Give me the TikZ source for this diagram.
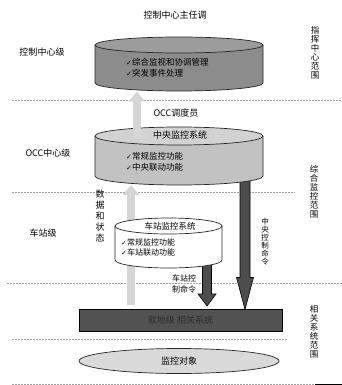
\documentclass[tikz,border=0pt]{standalone}
\usepackage{fontspec}
\setmainfont{Noto Sans CJK SC}
\newfontfamily\ckfont{DejaVu Sans}
\usetikzlibrary{calc,arrows.meta,shapes.geometric}
\newcommand{\okmark}{{\ckfont\fontsize{7}{7}\selectfont ✓}}
\definecolor{ccbody}{HTML}{8C8C8C}
\definecolor{cctop}{HTML}{9C9C9C}
\definecolor{occbody}{HTML}{C2C2C2}
\definecolor{occtop}{HTML}{D2D2D2}
\definecolor{lightarr}{HTML}{D6D6D6}
\definecolor{darkarr}{HTML}{4D4D4D}
\definecolor{rectfill}{HTML}{525252}
\definecolor{recttext}{HTML}{2E2E2E}
\definecolor{objfill}{HTML}{D9D9D9}
\begin{document}
\begin{tikzpicture}[x=1pt,y=-1pt,
  font=\fontsize{9}{11}\selectfont,
  dashline/.style={draw=gray!75, line width=0.6pt, dash pattern=on 2pt off 1pt},
  outline/.style={draw=black!85, line width=0.7pt},
  lightarrow/.style={draw=lightarr, line width=8pt, -{Triangle[width=16pt,length=10pt]}},
  darkarrow/.style={fill=darkarr, draw=black, line width=0.6pt},
  feat/.style={anchor=west, align=left, inner sep=0pt, font=\fontsize{8.5}{10.5}\selectfont},
  vtext/.style={align=center, inner sep=0pt},
  label/.style={inner sep=0pt}]
\useasboundingbox (0,0) rectangle (342,385);
\fill[white] (0,0) rectangle (342,385);

% dashed separators
\draw[dashline] (12,100) -- (342,100);
\draw[dashline] (12,192) -- (295,192);
\draw[dashline] (7,283) -- (342,283);
\draw[dashline] (12,339) -- (287,339);
\draw[dashline] (12,384) -- (315,384);
\draw[black, line width=2pt] (315,384.5) -- (342,384.5);

% named coordinates for connectors
\coordinate (dataBot) at (131,305);
\coordinate (occBot) at (131,185);
\coordinate (occIn) at (137,139);
\coordinate (ccBot) at (137,91.5);
\coordinate (zA) at (245,180);
\coordinate (zB) at (245,309.5);
\coordinate (sA) at (207,262);
\coordinate (sB) at (207,306);

% lower light arrow (behind station cylinder)
\draw[lightarrow] (dataBot) -- (occBot);

% dark arrows
\filldraw[darkarrow] ($(zA)+(-5,0)$) -- ($(zB)+(-5,-32)$) -- ($(zB)+(-8.5,-32)$) -- (zB)
  -- ($(zB)+(8.5,-32)$) -- ($(zB)+(5,-32)$) -- ($(zA)+(5,0)$) -- cycle;
\filldraw[darkarrow] ($(sA)+(-4.5,0)$) -- ($(sB)+(-4.5,-12)$) -- ($(sB)+(-9,-12)$) -- (sB)
  -- ($(sB)+(9,-12)$) -- ($(sB)+(4.5,-12)$) -- ($(sA)+(4.5,0)$) -- cycle;

% control-center cylinder
\fill[ccbody] (95,45) -- (95,83) arc[start angle=180, end angle=0, x radius=84, y radius=8] -- (263,45) -- cycle;
\draw[outline] (95,45) -- (95,83) arc[start angle=180, end angle=0, x radius=84, y radius=8] -- (263,45);
\filldraw[outline, fill=cctop] (179,45) ellipse[x radius=84, y radius=8];

% OCC cylinder
\fill[occbody] (95,136) -- (95,176) arc[start angle=180, end angle=0, x radius=84, y radius=9] -- (263,136) -- cycle;
\draw[outline] (95,136) -- (95,176) arc[start angle=180, end angle=0, x radius=84, y radius=9] -- (263,136);
\filldraw[outline, fill=occtop] (179,136) ellipse[x radius=84, y radius=9];

% station cylinder
\fill[white] (115,226) -- (115,260) arc[start angle=180, end angle=0, x radius=53.5, y radius=8] -- (222,226) -- cycle;
\draw[outline] (115,226) -- (115,260) arc[start angle=180, end angle=0, x radius=53.5, y radius=8] -- (222,226);
\filldraw[outline, fill=white] (168.5,226) ellipse[x radius=53.5, y radius=8];

% upper light arrow (over OCC top)
\draw[lightarrow] (occIn) -- (ccBot);

% local systems bar and monitored objects
\node[draw=black, line width=0.7pt, fill=rectfill, text=recttext, minimum width=203pt, minimum height=22pt, inner sep=0pt] (loc) at (180.5,320.5) {就地级 相关系统};
\node[ellipse, draw=black!85, line width=0.7pt, fill=objfill, minimum width=200pt, minimum height=25pt, inner sep=0pt] (obj) at (179,361) {监控对象};

% texts
\node[label] (ctitle) at (175,15) {控制中心主任调};
\node[label] (lcc) at (42,52) {控制中心级};
\node[feat] (ccf) at (126,68) {\okmark 综合监视和协调管理\\\okmark 突发事件处理};
\node[label] (occd) at (176,113) {OCC调度员};
\node[label] (locc) at (48,153) {OCC中心级};
\node[label] (occn) at (180,135) {中央监控系统};
\node[feat, font=\fontsize{8.5}{11.5}\selectfont] (occf) at (126,162) {\okmark 常规监控功能\\\okmark 中央联动功能};
\node[label] (lst) at (43,233) {车站级};
\node[label, font=\fontsize{8.5}{10}\selectfont] (stn) at (170,226) {车站监控系统};
\node[feat, font=\fontsize{8}{9.5}\selectfont] (stf) at (121,247.5) {\okmark 常规监控功能\\\okmark 车站联动功能};
\node[vtext, font=\fontsize{9}{11}\selectfont] (sd) at (100,216) {数\\据\\和\\状\\态};
\node[vtext, font=\fontsize{7.5}{8}\selectfont] (zy) at (265,242) {中\\央\\控\\制\\命\\令};
\node[vtext, font=\fontsize{8}{11}\selectfont] (czm) at (184,283.5) {车站控\\制命令};
\node[vtext, font=\fontsize{8.5}{9}\selectfont] (r1) at (315,53) {指\\挥\\中\\心\\范\\围};
\node[vtext, font=\fontsize{8.5}{9}\selectfont] (r2) at (314,191.5) {综\\合\\监\\控\\范\\围};
\node[vtext, font=\fontsize{8.5}{9}\selectfont] (r3) at (314,332) {相\\关\\系\\统\\范\\围};
\end{tikzpicture}
\end{document}
